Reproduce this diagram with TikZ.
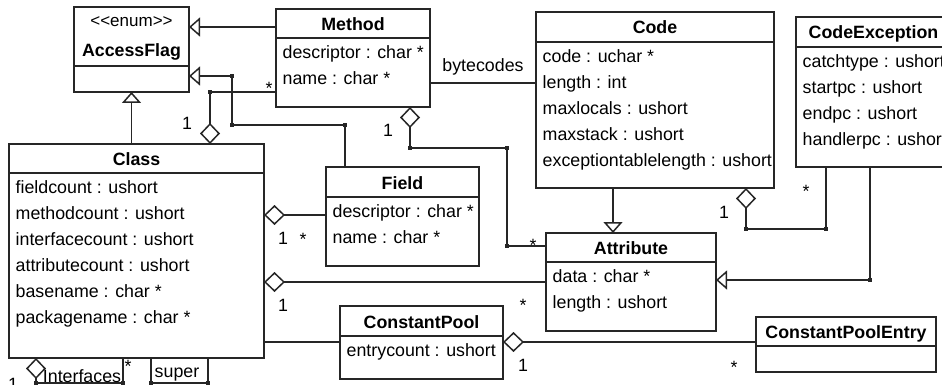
\documentclass[tikz,border=0pt]{standalone}
\usepackage{fontspec}
\setmainfont{Liberation Sans}
\usetikzlibrary{arrows.meta,fit}
\definecolor{umlline}{HTML}{262626}
\newcommand{\umlfont}{\fontsize{17.8pt}{21pt}\selectfont}
\newcommand{\umlbox}[6]{
    \node[classbox, fit={(#2,#3) (#4,#5)}] (#1) {};
    \draw[boxline] (#1.west |- 0,#6) -- (#1.east |- 0,#6);
}
\tikzset{
    boxline/.style={draw=umlline, line width=1.5pt},
    classbox/.style={boxline, fill=white, inner sep=0pt, outer sep=0pt},
    classtitle/.style={anchor=base, font=\umlfont\bfseries, inner sep=0pt},
    attr/.style={anchor=base west, font=\umlfont, inner sep=0pt},
    mult/.style={anchor=base, font=\umlfont, inner sep=0pt},
    gen/.style={boxline, -{Triangle[open, length=11pt, width=19pt]}},
    agg/.style={boxline, {Diamond[open, length=21pt, width=20pt]}-},
    assoc/.style={boxline},
}

\begin{document}
\begin{tikzpicture}[x=1pt, y=-1pt]
    \useasboundingbox (0,0) rectangle (942,385);
    \clip (0,0) rectangle (942,385);
    % class boxes
    \umlbox{access}{74}{7}{189}{92}{66}
    \umlbox{method}{276}{9}{430}{107}{38}
    \umlbox{code}{536}{12}{774}{188}{42}
    \umlbox{codeexc}{796}{17}{951}{167}{47}
    \umlbox{class}{9}{144}{264}{358}{173}
    \umlbox{field}{326}{167}{479}{266}{197}
    \umlbox{attribute}{546}{233}{716}{331}{262}
    \umlbox{cpool}{340}{306}{503}{379}{336}
    \umlbox{cpentry}{756}{317}{936}{372}{346}

    % titles
    \node[anchor=base, font=\fontsize{17pt}{20pt}\selectfont, inner sep=0pt] (access-stereo) at (131.5,27) {<\kern0pt<enum>\kern0pt>};
    \node[classtitle] (access-title) at (131.5,57) {AccessFlag};
    \node[classtitle] (method-title) at (353,30.5) {Method};
    \node[classtitle] (code-title) at (655,34) {Code};
    \node[classtitle] (codeexc-title) at (873.5,39) {CodeException};
    \node[classtitle] (class-title) at (136.5,165.5) {Class};
    \node[classtitle] (field-title) at (402.5,189) {Field};
    \node[classtitle] (attribute-title) at (631,254.5) {Attribute};
    \node[classtitle] (cpool-title) at (421.5,328) {ConstantPool};
    \node[classtitle] (cpentry-title) at (846,338.5) {ConstantPoolEntry};

    % attributes
    \node[attr] (method-a1) at (282.5,58.5) {descriptor : char *};
    \node[attr] (method-a2) at (282.5,84.5) {name : char *};
    \node[attr] (code-a1) at (542.5,62.5) {code : uchar *};
    \node[attr] (code-a2) at (542.5,88.5) {length : int};
    \node[attr] (code-a3) at (542.5,114.5) {maxlocals : ushort};
    \node[attr] (code-a4) at (542.5,140.5) {maxstack : ushort};
    \node[attr] (code-a5) at (542.5,166.5) {exceptiontablelength : ushort};
    \node[attr] (codeexc-a1) at (802.5,67.5) {catchtype : ushort};
    \node[attr] (codeexc-a2) at (802.5,93.5) {startpc : ushort};
    \node[attr] (codeexc-a3) at (802.5,119.5) {endpc : ushort};
    \node[attr] (codeexc-a4) at (802.5,145.5) {handlerpc : ushort};
    \node[attr] (class-a1) at (15.5,193.5) {fieldcount : ushort};
    \node[attr] (class-a2) at (15.5,219.5) {methodcount : ushort};
    \node[attr] (class-a3) at (15.5,245.5) {interfacecount : ushort};
    \node[attr] (class-a4) at (15.5,271.5) {attributecount : ushort};
    \node[attr] (class-a5) at (15.5,297.5) {basename : char *};
    \node[attr] (class-a6) at (15.5,323.5) {packagename : char *};
    \node[attr] (field-a1) at (332.5,217.5) {descriptor : char *};
    \node[attr] (field-a2) at (332.5,243.5) {name : char *};
    \node[attr] (attribute-a1) at (552.5,282.5) {data : char *};
    \node[attr] (attribute-a2) at (552.5,308.5) {length : ushort};
    \node[attr] (cpool-a1) at (346.5,356.5) {entrycount : ushort};

    % generalizations
    \draw[gen] (method.west |- 0,27) -- (access.east |- 0,27);
    \draw[gen] (class.north -| access.south) -- (access.south);
    \coordinate (fa1) at (345,125);
    \coordinate (fa2) at (232,125);
    \coordinate (fa3) at (232,76);
    \draw[gen] (field.north -| fa1) -- (fa1) -- (fa2) -- (fa3) -- (access.east |- fa3);
    \draw[gen] (code.south -| 613,0) -- (attribute.north -| 613,0);
    \coordinate (ea1) at (870,280);
    \draw[gen] (codeexc.south -| ea1) -- (ea1) -- (attribute.east |- ea1);

    % associations
    \coordinate (cm1) at (210,92);
    \draw[agg] (class.north -| cm1) -- (cm1) -- (method.west |- cm1);
    \draw[assoc] (method.east |- 0,83) -- (code.west |- 0,83)
        node[midway, anchor=base, yshift=11pt, font=\umlfont, inner sep=0pt] (bytecodes-label) {bytecodes};
    \coordinate (ma1) at (410,148);
    \coordinate (ma2) at (507,148);
    \coordinate (ma3) at (507,246);
    \draw[agg] (method.south -| ma1) -- (ma1) -- (ma2) -- (ma3) -- (attribute.west |- ma3);
    \draw[agg] (class.east |- 0,215) -- (field.west |- 0,215);
    \draw[agg] (class.east |- 0,282) -- (attribute.west |- 0,282);
    \draw[assoc] (class.east |- 0,342) -- (cpool.west |- 0,342);
    \draw[agg] (cpool.east |- 0,342) -- (cpentry.west |- 0,342);
    \coordinate (ce1) at (746,229);
    \coordinate (ce2) at (826,229);
    \draw[agg] (code.south -| ce1) -- (ce1) -- (ce2) -- (codeexc.south -| ce2);
    \coordinate (ci1) at (36,383);
    \coordinate (ci2) at (123,383);
    \draw[agg] (class.south -| ci1) -- (ci1) -- (ci2) -- (class.south -| ci2);
    \coordinate (cs1) at (151,383);
    \coordinate (cs2) at (208,383);
    \draw[assoc] (class.south -| cs1) -- (cs1) -- (cs2) -- (class.south -| cs2);

    % junction points
    \foreach \j in {fa1,fa2,fa3,ea1,cm1,ma1,ma2,ma3,ce1,ce2,ci1,ci2,cs1,cs2}
        \fill[umlline] (\j) +(-2.3,-2.3) rectangle +(2.3,2.3);

    % role names and multiplicities
    \node[mult] (interfaces-label) at (82,382) {Interfaces};
    \node[mult] (super-label) at (177,377) {super};
    \node[mult] (cm-one) at (187,129.4) {1};
    \node[mult] (cm-many) at (269,94.3) {*};
    \node[mult] (ma-one) at (388,136.4) {1};
    \node[mult] (ma-many) at (533,251.3) {*};
    \node[mult] (cf-one) at (283,244.4) {1};
    \node[mult] (cf-many) at (303,245.3) {*};
    \node[mult] (ca-one) at (283,311.4) {1};
    \node[mult] (ca-many) at (523,311.3) {*};
    \node[mult] (pe-one) at (523,371.4) {1};
    \node[mult] (pe-many) at (734,373.3) {*};
    \node[mult] (ce-one) at (724,218.4) {1};
    \node[mult] (ce-many) at (806,197.3) {*};
    \node[mult] (ci-one) at (13,390) {1};
    \node[mult] (ci-many) at (128,372.3) {*};
\end{tikzpicture}
\end{document}
